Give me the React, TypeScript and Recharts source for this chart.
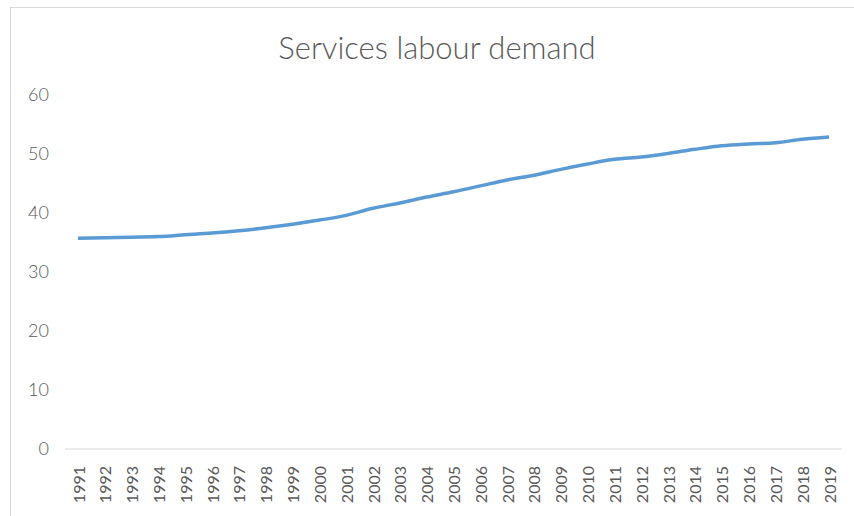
import { LineChart, Line, XAxis, YAxis } from "recharts";

const years = [
  "1991", "1992", "1993", "1994", "1995", "1996", "1997", "1998", "1999", "2000",
  "2001", "2002", "2003", "2004", "2005", "2006", "2007", "2008", "2009", "2010",
  "2011", "2012", "2013", "2014", "2015", "2016", "2017", "2018", "2019",
];

const demand = [
  35.7, 35.8, 35.9, 36.0, 36.3, 36.6, 37.0, 37.5, 38.1, 38.8,
  39.6, 40.8, 41.7, 42.7, 43.6, 44.6, 45.6, 46.4, 47.4, 48.3,
  49.1, 49.5, 50.1, 50.8, 51.4, 51.7, 51.9, 52.5, 52.9,
];

const yTicks = [0, 10, 20, 30, 40, 50, 60];

const data = years.map((year, i) => ({ year, demand: demand[i] }));

const FONT = "Lato, 'Liberation Sans', sans-serif";
const GREY = "#595959";

function YearTick({ x, y, payload }: any) {
  return (
    <text
      x={0}
      y={0}
      transform={`translate(${x},${y + 9}) rotate(-90)`}
      textAnchor="end"
      dominantBaseline="central"
      fontSize={16}
      fill={GREY}
      fontFamily={FONT}
    >
      {payload.value}
    </text>
  );
}

export default function App() {
  return (
    <div style={{ position: "absolute", left: 0, top: 0, width: 854, height: 516, background: "#fff", overflow: "hidden" }}>
      <div
        style={{
          position: "absolute",
          left: 10,
          top: 7,
          width: 900,
          height: 600,
          borderLeft: "1px solid #d9d9d9",
          borderTop: "1px solid #d9d9d9",
        }}
      />
      <div
        style={{
          position: "absolute",
          left: 10,
          width: 854,
          top: 28,
          textAlign: "center",
          fontFamily: FONT,
          fontSize: 31,
          fontWeight: 300,
          color: GREY,
        }}
      >
        Services labour demand
      </div>
      <div style={{ position: "absolute", left: 0, top: 0 }}>
        <LineChart width={854} height={516} data={data} margin={{ top: 95, right: 12, bottom: 0, left: 0 }}>
          <XAxis
            dataKey="year"
            height={67}
            interval={0}
            padding={{ left: 13, right: 13 }}
            tick={<YearTick />}
            tickLine={false}
            axisLine={{ stroke: "#d9d9d9", strokeWidth: 1 }}
          />
          <YAxis
            domain={[0, 60]}
            ticks={yTicks}
            width={65}
            axisLine={false}
            tickLine={false}
            tickSize={0}
            tickMargin={16}
            tick={{ fontSize: 18, fill: GREY, fontFamily: FONT, fontWeight: 300 }}
          />
          <Line
            type="monotone"
            dataKey="demand"
            stroke="#5b9bd5"
            strokeWidth={3.5}
            dot={false}
            isAnimationActive={false}
          />
        </LineChart>
      </div>
    </div>
  );
}
